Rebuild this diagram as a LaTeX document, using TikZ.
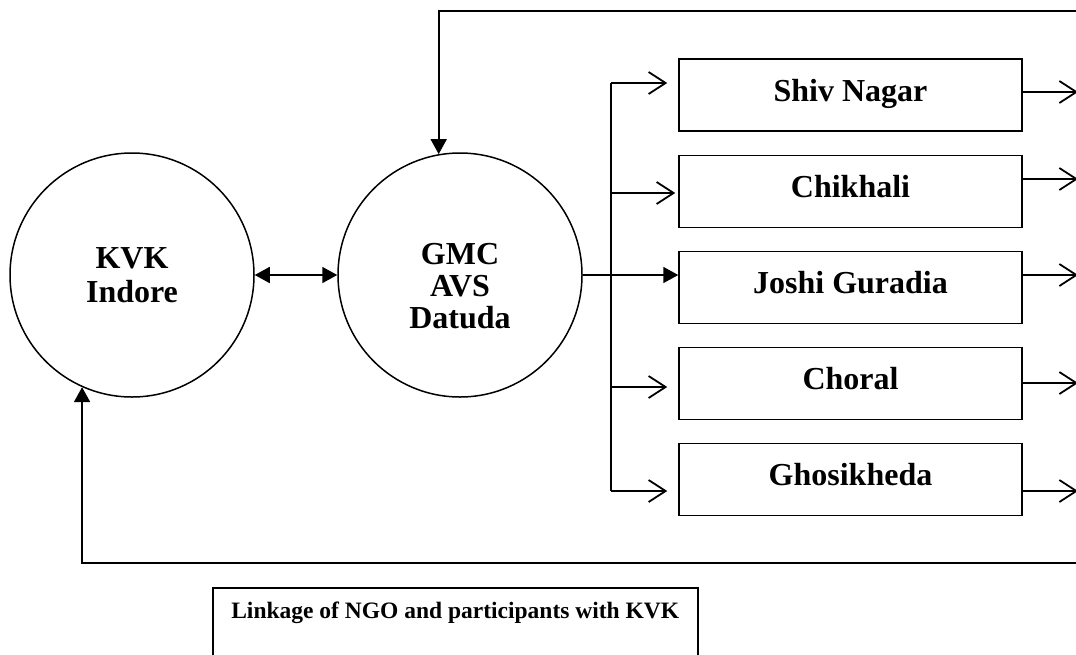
\documentclass[tikz,border=0pt]{standalone}
\usepackage{fontspec}
\setmainfont{Liberation Serif}
\usetikzlibrary{arrows.meta}
\begin{document}
\begin{tikzpicture}[x=1pt,y=-1pt,
  lbl/.style={font=\bfseries\fontsize{32}{34}\selectfont},
  circ/.style={circle,draw,line width=1.5pt,minimum size=244pt,inner sep=0pt,lbl,align=center},
  site/.style={rectangle,draw,line width=1.5pt,minimum width=343pt,minimum height=72pt,inner sep=0pt,lbl,text height=21pt,text depth=9pt},
  conn/.style={line width=1.8pt},
  openarr/.style={conn,-{Straight Barb[length=17pt,width=22pt,line width=1.8pt]}},
  fillarr/.style={conn,-{Triangle[length=15pt,width=16pt]}},
  bothfill/.style={conn,{Triangle[length=15pt,width=16pt]}-{Triangle[length=15pt,width=16pt]}},
]
\useasboundingbox (0,0) rectangle (1076,654);
\clip (0,0) rectangle (1076,654);

\node[circ] (kvk) at (132,275) {KVK\\Indore};
\node[circ] (gmc) at (460,275) {\raisebox{-21pt}[0pt][0pt]{\fontsize{32}{32}\selectfont\begin{tabular}{@{}c@{}}GMC\\AVS\\Datuda\end{tabular}}};

\node[site] (b1) at (850.5,95) {Shiv Nagar};
\node[site] (b2) at (850.5,191.5) {Chikhali};
\node[site] (b3) at (850.5,287.5) {Joshi Guradia};
\node[site] (b4) at (850.5,383.5) {Choral};
\node[site] (b5) at (850.5,479.5) {Ghosikheda};

\node[draw,line width=1.5pt,anchor=north west,inner sep=0pt,minimum width=485pt,
      text height=31pt,text depth=69pt,font=\bfseries\fontsize{23.5}{28}\selectfont] (cap) at (212,587)
      {Linkage of NGO and participants with KVK};

% free ends
\coordinate (topR) at (1080,11);
\coordinate (botR) at (1080,563);
\coordinate (j1) at (611,83);
\coordinate (j2) at (611,193);
\coordinate (j4) at (611,387);
\coordinate (j5) at (611,491);
\coordinate (r1) at (1078,92);
\coordinate (r2) at (1078,179);
\coordinate (r3) at (1078,275);
\coordinate (r4) at (1078,383);
\coordinate (r5) at (1078,491);

% KVK <-> GMC
\draw[bothfill] (kvk.east) -- (gmc.west);

% feedback loops
\draw[fillarr] (topR) -| (gmc.100);
\draw[fillarr] (botR) -| (kvk.246);

% bus to villages
\draw[conn] (j1) -- (j5);
\draw[openarr,shorten >=11pt] (j1) -- (j1 -| b1.west);
\draw[openarr,shorten >=3pt] (j2) -- (j2 -| b2.west);
\draw[fillarr] (gmc.east) -- (gmc.east -| b3.west);
\draw[openarr,shorten >=11pt] (j4) -- (j4 -| b4.west);
\draw[openarr,shorten >=11pt] (j5) -- (j5 -| b5.west);

% outputs of villages
\draw[openarr] (b1.east |- r1) -- (r1);
\draw[openarr] (b2.east |- r2) -- (r2);
\draw[openarr] (b3.east |- r3) -- (r3);
\draw[openarr] (b4.east |- r4) -- (r4);
\draw[openarr] (b5.east |- r5) -- (r5);
\end{tikzpicture}
\end{document}
